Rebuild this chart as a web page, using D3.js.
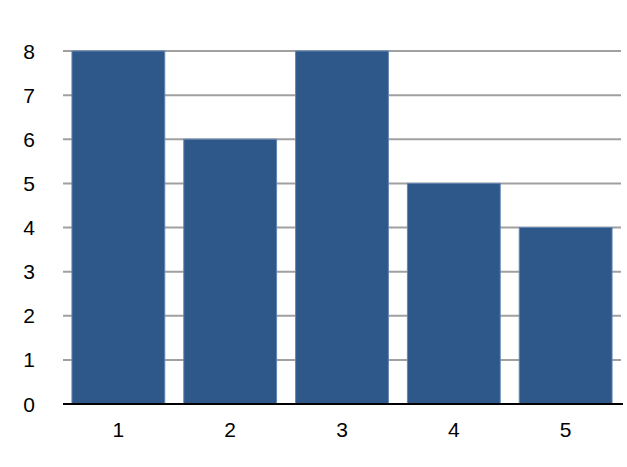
<!DOCTYPE html>
<html>
<head>
<meta charset="utf-8">
<script src="https://cdn.jsdelivr.net/npm/d3@7"></script>
<style>
  body { margin: 0; background: #fff; }
  svg text { font-family: "Liberation Sans", Arial, sans-serif; font-size: 21px; fill: #000; }
</style>
</head>
<body>
<svg id="chart" width="627" height="467"></svg>
<script>
// Chart data
var categories = ["1", "2", "3", "4", "5"];
var values = [8, 6, 8, 5, 4];
var yTicks = [0, 1, 2, 3, 4, 5, 6, 7, 8];

var svg = d3.select("#chart");
var margin = { top: 51, right: 6, bottom: 63, left: 63 };
var width = 627 - margin.left - margin.right;
var height = 467 - margin.top - margin.bottom;

var x = d3.scaleBand()
  .domain(categories)
  .range([0, width])
  .paddingInner(0.17)
  .paddingOuter(0.08);

var y = d3.scaleLinear()
  .domain([0, 8])
  .range([height, 0]);

var g = svg.append("g")
  .attr("transform", "translate(" + margin.left + "," + margin.top + ")");

// Gridlines
g.selectAll("line.grid")
  .data(yTicks.filter(d => d > 0))
  .enter()
  .append("line")
  .attr("class", "grid")
  .attr("x1", 0)
  .attr("x2", width)
  .attr("y1", d => y(d))
  .attr("y2", d => y(d))
  .attr("stroke", "#a0a0a0")
  .attr("stroke-width", 2);

// Bars
g.selectAll("rect.bar")
  .data(values)
  .enter()
  .append("rect")
  .attr("class", "bar")
  .attr("x", (d, i) => x(categories[i]))
  .attr("width", x.bandwidth())
  .attr("y", d => y(d))
  .attr("height", d => height - y(d))
  .attr("fill", "#2e5889")
  .attr("stroke", "#6285b3")
  .attr("stroke-width", 1);

// Baseline
g.append("line")
  .attr("x1", 0)
  .attr("x2", width + 2)
  .attr("y1", height)
  .attr("y2", height)
  .attr("stroke", "#000")
  .attr("stroke-width", 2);

// Y tick labels
g.selectAll("text.ylab")
  .data(yTicks)
  .enter()
  .append("text")
  .attr("class", "ylab")
  .attr("x", -34)
  .attr("y", d => y(d))
  .attr("dy", "0.36em")
  .attr("text-anchor", "middle")
  .text(d => d);

// X tick labels
g.selectAll("text.xlab")
  .data(categories)
  .enter()
  .append("text")
  .attr("class", "xlab")
  .attr("x", d => x(d) + x.bandwidth() / 2)
  .attr("y", height + 25)
  .attr("dy", "0.36em")
  .attr("text-anchor", "middle")
  .text(d => d);
</script>
</body>
</html>
